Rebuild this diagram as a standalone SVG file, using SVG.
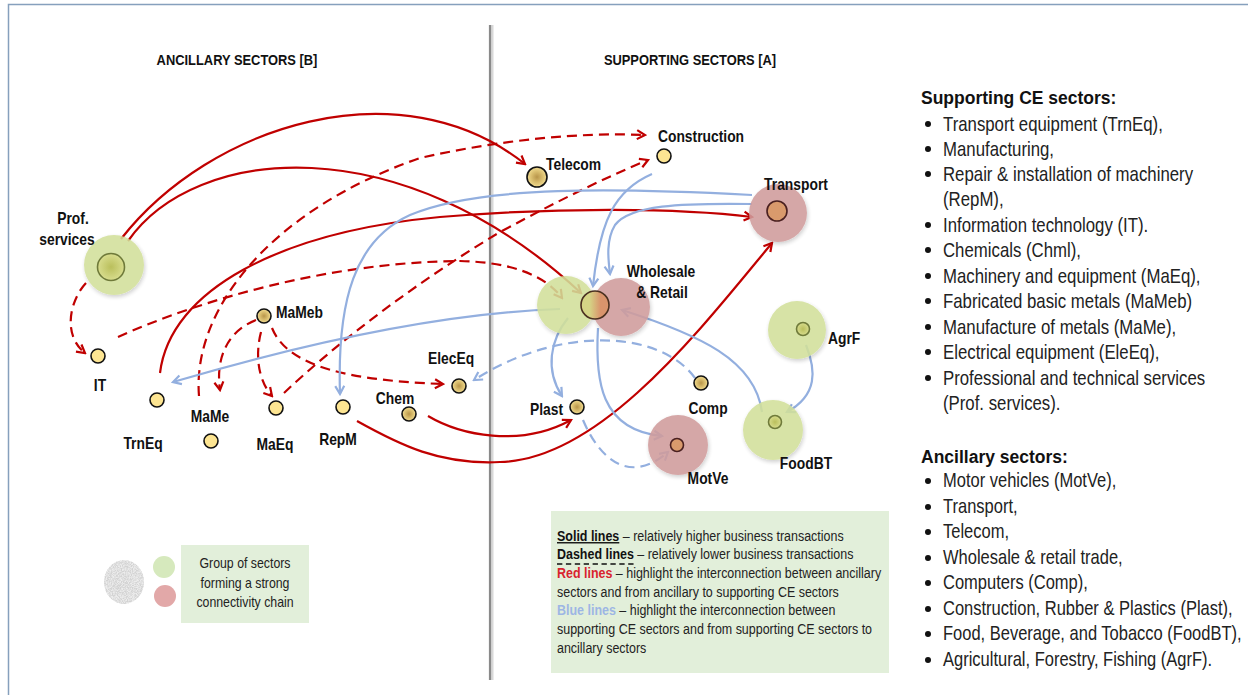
<svg xmlns="http://www.w3.org/2000/svg" width="1248" height="695" viewBox="0 0 1248 695">
<style>
.lbl{font-family:"Liberation Sans",Arial,sans-serif;font-weight:bold;font-size:16.5px;fill:#111}
.ttl{font-family:"Liberation Sans",Arial,sans-serif;font-weight:bold;font-size:15px;fill:#111}
.lst{font-family:"Liberation Sans",Arial,sans-serif;font-size:20px;fill:#222}
.hd{font-family:"Liberation Sans",Arial,sans-serif;font-weight:bold;font-size:17.5px;fill:#111}
.leg{font-family:"Liberation Sans",Arial,sans-serif;font-size:14px;fill:#222}
.rs{fill:none;stroke:#c00000;stroke-width:2.2}
.rd{fill:none;stroke:#c00000;stroke-width:2.2;stroke-dasharray:10 6}
.bs{fill:none;stroke:#93afdf;stroke-width:2.2}
.bd{fill:none;stroke:#93afdf;stroke-width:2.2;stroke-dasharray:10 6}
.yn{fill:#fde592;stroke:#111;stroke-width:1.6}
.tn{fill:url(#tan);stroke:#111;stroke-width:1.6}
.gb{fill:#d2e09a;opacity:0.88}
.pb{fill:#d09c9c;opacity:0.88}
.gi{fill:url(#olive);stroke:#6f7a3a;stroke-width:1.6}
.oi{fill:#d99a6c;stroke:#4a2020;stroke-width:1.6}
</style>
<defs>
<radialGradient id="tan"><stop offset="0" stop-color="#b8954a"/><stop offset="0.55" stop-color="#d9bd6e"/><stop offset="1" stop-color="#f1dc92"/></radialGradient>
<radialGradient id="olive"><stop offset="0" stop-color="#babf5c"/><stop offset="1" stop-color="#d8dd8e"/></radialGradient>
<linearGradient id="ws" x1="0" y1="0" x2="1" y2="0"><stop offset="0.3" stop-color="#d5d586"/><stop offset="0.7" stop-color="#d9946c"/></linearGradient>
<filter id="sh" x="-30%" y="-30%" width="160%" height="160%"><feDropShadow dx="1" dy="2" stdDeviation="2" flood-opacity="0.22"/></filter>
<filter id="tex" x="0" y="0" width="100%" height="100%"><feTurbulence type="fractalNoise" baseFrequency="1.2" numOctaves="2" result="n"/><feColorMatrix in="n" type="matrix" values="0 0 0 0 0.65 0 0 0 0 0.65 0 0 0 0 0.65 0 0 0 -3 2" result="g"/><feComposite in="g" in2="SourceGraphic" operator="in" result="t"/><feMerge><feMergeNode in="SourceGraphic"/><feMergeNode in="t"/></feMerge></filter>
<marker id="ar" viewBox="0 0 12 12" refX="10" refY="6" markerWidth="12" markerHeight="12" orient="auto" markerUnits="userSpaceOnUse"><path d="M2,1.5 L10,6 L2,10.5" fill="none" stroke="#c00000" stroke-width="2.2"/></marker>
<marker id="ab" viewBox="0 0 12 12" refX="10" refY="6" markerWidth="12" markerHeight="12" orient="auto" markerUnits="userSpaceOnUse"><path d="M2,1.5 L10,6 L2,10.5" fill="none" stroke="#93afdf" stroke-width="2.2"/></marker>
</defs>
<rect x="0" y="0" width="1248" height="695" fill="#fff"/>
<rect x="8.5" y="4.5" width="1260" height="720" fill="none" stroke="#86a0bd" stroke-width="1.5"/>
<g id="divider"><line x1="492" y1="25" x2="492" y2="680" stroke="#d8d8d8" stroke-width="3"/><line x1="490" y1="25" x2="490" y2="680" stroke="#8a8a8a" stroke-width="2.2"/></g>
<text class="ttl" transform="translate(237 65) scale(0.86 1)" text-anchor="middle">ANCILLARY SECTORS [B]</text>
<text class="ttl" transform="translate(690 65) scale(0.86 1)" text-anchor="middle">SUPPORTING SECTORS [A]</text>

<g id="connectors">
<path class="rs" d="M121,239 C210,125 400,65 525,164" marker-end="url(#ar)"/>
<path class="rs" d="M128,241 C195,145 400,125 581,293" marker-end="url(#ar)"/>
<path class="rs" d="M160,373 C170,290 280,232 440,217 C560,207 680,208 752,217" marker-end="url(#ar)"/>
<path class="rs" d="M428,416 C460,435 520,448 571,420" marker-end="url(#ar)"/>
<path class="rs" d="M357,421 C400,445 440,465 500,462 C600,460 700,330 772,243" marker-end="url(#ar)"/>
<path class="rd" d="M86,283 C70,300 62,335 85,353" marker-end="url(#ar)"/>
<path class="rd" d="M199,396 C192,310 270,210 420,158 C500,140 580,132 645,135" marker-end="url(#ar)"/>
<path class="rd" d="M118,337 C200,300 330,262 460,261 C510,262 545,275 562,298" marker-end="url(#ar)"/>
<path class="rd" d="M284,393 C340,340 420,280 500,232 C560,200 600,180 648,160" marker-end="url(#ar)"/>
<path class="rd" d="M256,320 C230,330 215,355 220,390" marker-end="url(#ar)"/>
<path class="rd" d="M261,332 C255,355 258,380 272,396" marker-end="url(#ar)"/>
<path class="rd" d="M272,328 C285,360 330,380 443,384" marker-end="url(#ar)"/>
<path class="bs" d="M752,195 C620,188 480,185 410,215 C355,240 337,300 340,394" marker-end="url(#ab)"/>
<path class="bs" d="M752,204 C680,203 630,205 615,225 C606,240 608,258 610,274" marker-end="url(#ab)"/>
<path class="bs" d="M652,174 C615,190 600,220 593,286" marker-end="url(#ab)"/>
<path class="bs" d="M560,309 C470,312 350,330 173,382" marker-end="url(#ab)"/>
<path class="bs" d="M568,318 C550,340 545,370 562,396" marker-end="url(#ab)"/>
<path class="bs" d="M598,328 C595,380 600,430 662,436" marker-end="url(#ab)"/>
<path class="bs" d="M762,412 C755,360 700,335 622,310" marker-end="url(#ab)"/>
<path class="bs" d="M806,345 C816,370 818,395 787,412" marker-end="url(#ab)"/>
<path class="bd" d="M695,378 C660,330 560,325 474,380" marker-end="url(#ab)"/>
<path class="bd" d="M583,420 C600,460 630,485 668,452" marker-end="url(#ab)"/>
</g>

<g id="prof"><circle class="gb" cx="114" cy="265" r="30" filter="url(#sh)"/><circle class="gi" cx="111" cy="267" r="13.5"/><text class="lbl" transform="translate(73 224) scale(0.84 1)" text-anchor="middle">Prof.</text><text class="lbl" transform="translate(67 245) scale(0.84 1)" text-anchor="middle">services</text></g>
<g id="it"><circle class="yn" cx="98" cy="356" r="7"/><text class="lbl" transform="translate(100 391) scale(0.84 1)" text-anchor="middle">IT</text></g>
<g id="trneq"><circle class="yn" cx="157" cy="400" r="7"/><text class="lbl" transform="translate(143 449) scale(0.84 1)" text-anchor="middle">TrnEq</text></g>
<g id="mame"><circle class="yn" cx="211" cy="441" r="7"/><text class="lbl" transform="translate(210 422) scale(0.84 1)" text-anchor="middle">MaMe</text></g>
<g id="mameb"><circle class="tn" cx="264" cy="316" r="7"/><text class="lbl" transform="translate(276 318) scale(0.84 1)">MaMeb</text></g>
<g id="maeq"><circle class="yn" cx="276" cy="408" r="7"/><text class="lbl" transform="translate(275 450) scale(0.84 1)" text-anchor="middle">MaEq</text></g>
<g id="repm"><circle class="yn" cx="343" cy="407" r="7"/><text class="lbl" transform="translate(338 445) scale(0.84 1)" text-anchor="middle">RepM</text></g>
<g id="chem"><circle class="tn" cx="409" cy="414" r="7"/><text class="lbl" transform="translate(395 404) scale(0.84 1)" text-anchor="middle">Chem</text></g>
<g id="eleceq"><circle class="tn" cx="459" cy="386" r="7"/><text class="lbl" transform="translate(451 364) scale(0.84 1)" text-anchor="middle">ElecEq</text></g>
<g id="telecom"><circle class="tn" cx="537" cy="177" r="10"/><text class="lbl" transform="translate(546 170) scale(0.84 1)">Telecom</text></g>
<g id="construction"><circle class="yn" cx="664" cy="156" r="7"/><text class="lbl" transform="translate(701 142) scale(0.84 1)" text-anchor="middle">Construction</text></g>
<g id="transport"><circle class="pb" cx="778" cy="213" r="29" filter="url(#sh)"/><circle class="oi" cx="777" cy="211" r="10"/><text class="lbl" transform="translate(796 190) scale(0.84 1)" text-anchor="middle">Transport</text></g>
<g id="wholesale"><circle class="gb" cx="566" cy="305" r="29" filter="url(#sh)"/><circle class="pb" cx="621" cy="307" r="29" filter="url(#sh)"/><circle cx="595" cy="305" r="14" fill="url(#ws)" stroke="#4a3020" stroke-width="1.6"/><text class="lbl" transform="translate(661 277) scale(0.84 1)" text-anchor="middle">Wholesale</text><text class="lbl" transform="translate(662 298) scale(0.84 1)" text-anchor="middle">&amp; Retail</text></g>
<g id="agrf"><circle class="gb" cx="797" cy="330" r="29" filter="url(#sh)"/><circle class="gi" cx="803" cy="329" r="6.5"/><text class="lbl" transform="translate(828 344) scale(0.84 1)">AgrF</text></g>
<g id="foodbt"><circle class="gb" cx="773" cy="430" r="30" filter="url(#sh)"/><circle class="gi" cx="775" cy="422" r="6.5"/><text class="lbl" transform="translate(806 469) scale(0.84 1)" text-anchor="middle">FoodBT</text></g>
<g id="comp"><circle class="tn" cx="701" cy="383" r="7"/><text class="lbl" transform="translate(708 414) scale(0.84 1)" text-anchor="middle">Comp</text></g>
<g id="plast"><circle class="tn" cx="577" cy="407" r="7"/><text class="lbl" transform="translate(563 415) scale(0.84 1)" text-anchor="end">Plast</text></g>
<g id="motve"><circle class="pb" cx="678" cy="445" r="30" filter="url(#sh)"/><circle class="oi" cx="677" cy="445" r="6.5"/><text class="lbl" transform="translate(708 484) scale(0.84 1)" text-anchor="middle">MotVe</text></g>

<g id="legend-groups">
<ellipse cx="124" cy="582" rx="20" ry="22" fill="#ececec" filter="url(#tex)"/>
<circle cx="164" cy="567" r="11" fill="#d6e9bd"/>
<circle cx="165" cy="596" r="11" fill="#e2a8a8"/>
<rect x="181" y="545" width="128" height="78" fill="#e2efda"/>
<g transform="translate(245 0) scale(0.88 1)">
<text class="leg" x="0" y="568" text-anchor="middle">Group of sectors</text>
<text class="leg" x="0" y="588" text-anchor="middle">forming a strong</text>
<text class="leg" x="0" y="607" text-anchor="middle">connectivity chain</text>
</g>
</g>

<g id="legend-lines">
<rect x="551" y="511" width="338" height="162" fill="#e2efda"/>
<g transform="translate(557 0) scale(0.89 1)">
<text class="leg" x="0" y="541"><tspan font-weight="bold" fill="#111" text-decoration="underline">Solid lines</tspan> – relatively higher business transactions</text>
<text class="leg" x="0" y="559"><tspan font-weight="bold" fill="#111">Dashed lines</tspan> – relatively lower business transactions</text>
<line x1="0" y1="564" x2="86" y2="564" stroke="#111" stroke-width="1.3" stroke-dasharray="6 4"/>
<text class="leg" x="0" y="578"><tspan font-weight="bold" fill="#d9232e">Red lines</tspan> – highlight the interconnection between ancillary</text>
<text class="leg" x="0" y="597">sectors and from ancillary to supporting CE sectors</text>
<text class="leg" x="0" y="615"><tspan font-weight="bold" fill="#9db6e4">Blue lines</tspan> – highlight the interconnection between</text>
<text class="leg" x="0" y="634">supporting CE sectors and from supporting CE sectors to</text>
<text class="leg" x="0" y="653">ancillary sectors</text>
</g>
</g>

<g id="list-supporting">
<text class="hd" x="921" y="104">Supporting CE sectors:</text>
<g fill="#111"><circle cx="928" cy="124" r="3"/><circle cx="928" cy="149" r="3"/><circle cx="928" cy="174" r="3"/><circle cx="928" cy="225" r="3"/><circle cx="928" cy="250" r="3"/><circle cx="928" cy="276" r="3"/><circle cx="928" cy="301" r="3"/><circle cx="928" cy="327" r="3"/><circle cx="928" cy="352" r="3"/><circle cx="928" cy="378" r="3"/></g>
<g transform="translate(943 0) scale(0.84 1)">
<text class="lst" x="0" y="131">Transport equipment (TrnEq),</text>
<text class="lst" x="0" y="156">Manufacturing,</text>
<text class="lst" x="0" y="181">Repair &amp; installation of machinery</text>
<text class="lst" x="0" y="206">(RepM),</text>
<text class="lst" x="0" y="232">Information technology (IT).</text>
<text class="lst" x="0" y="257">Chemicals (Chml),</text>
<text class="lst" x="0" y="283">Machinery and equipment (MaEq),</text>
<text class="lst" x="0" y="308">Fabricated basic metals (MaMeb)</text>
<text class="lst" x="0" y="334">Manufacture of metals (MaMe),</text>
<text class="lst" x="0" y="359">Electrical equipment (EleEq),</text>
<text class="lst" x="0" y="385">Professional and technical services</text>
<text class="lst" x="0" y="410">(Prof. services).</text>
</g>
</g>

<g id="list-ancillary">
<text class="hd" x="921" y="463">Ancillary sectors:</text>
<g fill="#111"><circle cx="928" cy="481" r="3"/><circle cx="928" cy="507" r="3"/><circle cx="928" cy="532" r="3"/><circle cx="928" cy="558" r="3"/><circle cx="928" cy="583" r="3"/><circle cx="928" cy="609" r="3"/><circle cx="928" cy="634" r="3"/><circle cx="928" cy="660" r="3"/></g>
<g transform="translate(943 0) scale(0.825 1)">
<text class="lst" x="0" y="487">Motor vehicles (MotVe),</text>
<text class="lst" x="0" y="513">Transport,</text>
<text class="lst" x="0" y="538">Telecom,</text>
<text class="lst" x="0" y="564">Wholesale &amp; retail trade,</text>
<text class="lst" x="0" y="589">Computers (Comp),</text>
<text class="lst" x="0" y="615">Construction, Rubber &amp; Plastics (Plast),</text>
<text class="lst" x="0" y="640">Food, Beverage, and Tobacco (FoodBT),</text>
<text class="lst" x="0" y="666">Agricultural, Forestry, Fishing (AgrF).</text>
</g>
</g>
</svg>
